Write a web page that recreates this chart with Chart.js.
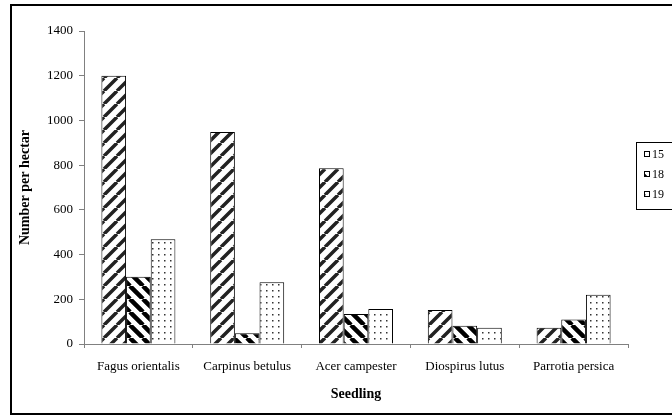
<!DOCTYPE html>
<html>
<head>
<meta charset="utf-8">
<script src="https://cdn.jsdelivr.net/npm/chart.js@4/dist/chart.umd.min.js"></script>
<style>
  html, body { margin: 0; padding: 0; background: #fff; overflow: hidden; }
  #wrap { position: relative; width: 672px; height: 415px; }
  #frame { position: absolute; left: 10px; top: 4px; width: 700px; height: 411px;
           border: 2px solid #000; box-sizing: border-box; }
  #c { position: absolute; left: 0; top: 0; }
</style>
</head>
<body>
<div id="wrap">
  <div id="frame"></div>
  <canvas id="c" width="672" height="415"></canvas>
</div>
<script>
// Seedling density per hectare, by species and survey group
const categories = ['Fagus orientalis', 'Carpinus betulus', 'Acer campester', 'Diospirus lutus', 'Parrotia persica'];
const seriesLabels = ['15', '18', '19'];
const values15 = [1200, 948, 786, 152, 73];
const values18 = [301, 48, 134, 82, 110];
const values19 = [468, 276, 156, 73, 220];
const yTicks = [0, 200, 400, 600, 800, 1000, 1200, 1400];

const SERIF = '"Liberation Serif", "Times New Roman", serif';

// Hatch fills
function stripes(rising, lineWidth, period, color) {
  const c = document.createElement('canvas');
  c.width = c.height = period;
  const g = c.getContext('2d');
  g.fillStyle = '#fff';
  g.fillRect(0, 0, period, period);
  g.strokeStyle = color;
  g.lineWidth = lineWidth;
  g.beginPath();
  for (const o of [-period, 0, period]) {
    if (rising) { g.moveTo(o, period); g.lineTo(o + period, 0); }
    else { g.moveTo(o, 0); g.lineTo(o + period, period); }
  }
  g.stroke();
  return g.createPattern(c, 'repeat');
}
function dots(step, size, color) {
  const c = document.createElement('canvas');
  c.width = c.height = step;
  const g = c.getContext('2d');
  g.fillStyle = '#fff';
  g.fillRect(0, 0, step, step);
  g.fillStyle = color;
  g.fillRect(2, 2, size, size);
  return g.createPattern(c, 'repeat');
}
const fills = [
  stripes(true, 3.5, 13, '#222'),
  stripes(false, 4.5, 13, '#000'),
  dots(6, 1.5, '#333')
];

// Boxed legend at the right edge
const boxLegend = {
  id: 'boxLegend',
  afterDraw(chart) {
    const ctx = chart.ctx;
    const x0 = 636, y0 = 142, w = 60, h = 67;
    ctx.save();
    ctx.fillStyle = '#fff';
    ctx.fillRect(x0, y0, w, h);
    ctx.strokeStyle = '#000';
    ctx.lineWidth = 1;
    ctx.strokeRect(x0 + 0.5, y0 + 0.5, w, h);
    ctx.font = '12px ' + SERIF;
    ctx.textBaseline = 'middle';
    ctx.textAlign = 'left';
    chart.data.datasets.forEach((ds, i) => {
      const cy = 154 + i * 20;
      ctx.fillStyle = ds.backgroundColor;
      ctx.fillRect(644, cy - 3, 6, 6);
      ctx.strokeStyle = '#000';
      ctx.strokeRect(644.5, cy - 2.5, 5, 5);
      ctx.fillStyle = '#000';
      ctx.fillText(ds.label, 652, cy + 1);
    });
    ctx.restore();
  }
};

const axisGrey = '#808080';

new Chart(document.getElementById('c'), {
  type: 'bar',
  data: {
    labels: categories,
    datasets: [values15, values18, values19].map((v, i) => ({
      label: seriesLabels[i],
      data: v,
      backgroundColor: fills[i],
      borderColor: '#000',
      borderWidth: 1,
      barPercentage: 1,
      categoryPercentage: 0.68
    }))
  },
  options: {
    responsive: false,
    devicePixelRatio: 1,
    animation: false,
    layout: { padding: { left: 0, top: 31, right: 44, bottom: 8 } },
    plugins: { legend: { display: false }, tooltip: { enabled: false } },
    scales: {
      x: {
        grid: { display: true, drawOnChartArea: false, drawTicks: true, tickLength: 4, color: axisGrey, offset: true },
        border: { display: true, color: axisGrey, width: 1 },
        ticks: { color: '#000', font: { family: SERIF, size: 13 }, padding: 11, maxRotation: 0, autoSkip: false },
        title: { display: true, text: 'Seedling', color: '#000',
                 font: { family: SERIF, size: 14, weight: 'bold' }, padding: { top: 0, bottom: 4 } },
        afterFit(scale) { scale.height = 63; }
      },
      y: {
        min: 0, max: 1400,
        afterBuildTicks(scale) { scale.ticks = yTicks.map(v => ({ value: v })); },
        grid: { display: true, drawOnChartArea: false, drawTicks: true, tickLength: 5, color: axisGrey },
        border: { display: true, color: axisGrey, width: 1 },
        ticks: { color: '#000', font: { family: SERIF, size: 13 }, padding: 6,
                 callback: (v) => String(v) },
        title: { display: true, text: 'Number per hectar', color: '#000',
                 font: { family: SERIF, size: 14, weight: 'bold' }, padding: { top: 17, bottom: 0 } },
        afterFit(scale) { scale.width = 84; }
      }
    }
  },
  plugins: [boxLegend]
});
</script>
</body>
</html>
